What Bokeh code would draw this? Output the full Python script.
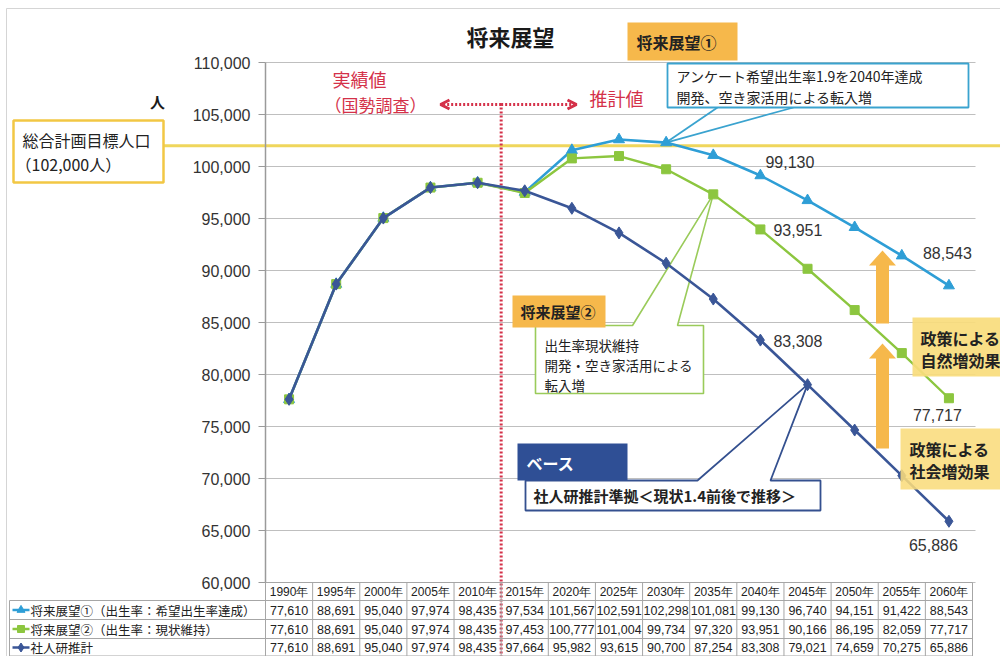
from bokeh.plotting import figure
from bokeh.models import (Range1d, BoxAnnotation, Label, Arrow, OpenHead, FixedTicker,
                          NumeralTickFormatter)
from bokeh.embed import file_html
from bokeh.resources import INLINE
from bokeh.core.properties import value

# ---------------- data ----------------
years = ["1990年", "1995年", "2000年", "2005年", "2010年", "2015年", "2020年", "2025年",
         "2030年", "2035年", "2040年", "2045年", "2050年", "2055年", "2060年"]
vision1 = [77610, 88691, 95040, 97974, 98435, 97534, 101567, 102591, 102298, 101081,
           99130, 96740, 94151, 91422, 88543]
vision2 = [77610, 88691, 95040, 97974, 98435, 97453, 100777, 101004, 99734, 97320,
           93951, 90166, 86195, 82059, 77717]
base_proj = [77610, 88691, 95040, 97974, 98435, 97664, 95982, 93615, 90700, 87254,
             83308, 79021, 74659, 70275, 65886]
series_labels = ["将来展望①（出生率：希望出生率達成）", "将来展望②（出生率：現状維持）", "社人研推計"]
target_population = 102000
y_ticks = [60000, 65000, 70000, 75000, 80000, 85000, 90000, 95000, 100000, 105000, 110000]

# ---------------- style / layout ----------------
C1 = "#2E9ED6"
C2 = "#8CC63F"
C3 = "#3A5697"
RED = "#D43149"
ORANGE = "#F6B84B"
YELLOW_LINE = "#EFD65C"
GRID = "#BFBFBF"
TLINE = "#A6A6A6"
JP = "Noto Sans CJK JP"
NUM = "Liberation Sans"

W, H = 1000, 656
PLOT_L, PLOT_T, PLOT_B = 265, 62, 582   # px of the value area
n = len(years)
UNIT = 707 / n                   # px per category
Y0, Y1 = y_ticks[0], y_ticks[-1]
PXY = (Y1 - Y0) / (PLOT_B - PLOT_T)   # data per px


def X(px):
    return (px - PLOT_L) / UNIT - 0.5


def Y(py):
    return Y1 - (py - PLOT_T) * PXY


def DY(h):
    return h * PXY


xs = list(range(n))
split_x = years.index("2015年") - 0.5

p = figure(width=W, height=H, x_range=Range1d(X(0), X(W)), y_range=Range1d(Y(H), Y(0)),
           x_axis_location=None, output_backend="svg", toolbar_location=None, min_border=0)
p.outline_line_color = None
p.grid.visible = False
p.yaxis.fixed_location = -0.5
p.yaxis.bounds = (Y0, Y1)
p.yaxis.ticker = FixedTicker(ticks=y_ticks)
p.yaxis.formatter = NumeralTickFormatter(format="0,0")
p.yaxis.major_label_text_font_size = "16px"
p.yaxis.major_label_text_font = NUM
p.yaxis.major_label_text_color = "#333333"
p.yaxis.axis_line_color = "#9A9A9A"
p.yaxis.axis_line_width = 1.5
p.yaxis.major_tick_line_color = "#9A9A9A"
p.yaxis.major_tick_out = 7
p.yaxis.major_tick_in = 0
p.yaxis.minor_tick_line_color = None
p.yaxis.major_label_standoff = 8

# faint outer frame of the figure
p.add_layout(BoxAnnotation(left=X(6), right=X(1010), top=Y(8), bottom=Y(700), fill_alpha=0,
                           line_color="#D5D5D5", line_alpha=1, line_width=1, level="underlay"))

# horizontal gridlines at the tick values
p.segment(x0=[-0.5] * len(y_ticks), y0=y_ticks, x1=[X(975)] * len(y_ticks), y1=y_ticks,
          line_color=GRID, line_width=1)


def label(x, y, text, size, color="#222222", font=JP, align="left", baseline="middle",
          style="normal", **kw):
    p.add_layout(Label(x=x, y=y, text=text, text_font_size=f"{size}px", text_color=color,
                       text_font=font, text_align=align, text_baseline=baseline,
                       text_font_style=style, **kw))


def box(left, right, top, bottom, fill, line=None, lw=1.5, falpha=1.0, level="annotation"):
    p.add_layout(BoxAnnotation(left=left, right=right, top=top, bottom=bottom,
                               fill_color=fill, fill_alpha=falpha,
                               line_color=line if line else fill,
                               line_alpha=1.0 if line else 0.0, line_width=lw, level=level))


# target population line (102,000)
p.segment(x0=[X(162)], y0=[target_population], x1=[X(1003)], y1=[target_population],
          line_color=YELLOW_LINE, line_width=3)

# red dotted separator between census and projection (through the table)
p.segment(x0=[split_x], y0=[Y(103)], x1=[split_x], y1=[Y(H)], line_color=RED,
          line_width=3, line_dash="2 2")

# ---- callout 1 tails
i2030 = years.index("2030年")
p.segment(x0=[X(717), X(793)], y0=[Y(107), Y(107)], x1=[i2030, i2030],
          y1=[vision1[i2030], vision1[i2030]], line_color="#3AA3CF", line_width=1.8)

# ---- callout 2 speech bubble
i2035 = years.index("2035年")
p.patch([X(535), X(632), i2035, X(677), X(703), X(703), X(535)],
        [Y(325), Y(325), vision2[i2035], Y(325), Y(325), Y(393), Y(393)],
        fill_color="white", line_color="#9ACB5A", line_width=1.6)

# ---- callout 3 speech bubble
i2045 = years.index("2045年")
p.patch([X(525), X(697), i2045, X(770), X(820), X(820), X(525)],
        [Y(480), Y(480), base_proj[i2045], Y(480), Y(480), Y(510), Y(510)],
        fill_color="white", line_color="#34508F", line_width=1.8)

# ---- orange up arrows
for tip, bottom in [(250, 323), (343, 448)]:
    cx = 882
    p.patch([X(cx - 6.5), X(cx - 6.5), X(cx - 13.5), X(cx), X(cx + 13.5), X(cx + 6.5), X(cx + 6.5)],
            [Y(bottom), Y(tip + 15), Y(tip + 15), Y(tip), Y(tip + 15), Y(tip + 15), Y(bottom)],
            fill_color=ORANGE, line_color=None)

# ---- series
p.line(xs, vision1, line_color=C1, line_width=2.6)
p.scatter(xs, vision1, marker="triangle", size=11, fill_color=C1, line_color=C1)
p.line(xs, vision2, line_color=C2, line_width=2.4)
p.scatter(xs, vision2, marker="square", size=9, fill_color=C2, line_color=C2)
p.line(xs, base_proj, line_color=C3, line_width=2.6)
p.scatter(xs, base_proj, marker="diamond", size=12, fill_color=C3, line_color=C3)

# ---- data labels
i2040 = years.index("2040年")
i2060 = years.index("2060年")
for series, idx, dxp, dyp in [(vision1, i2040, 5, 14), (vision2, i2040, 13, -1), (base_proj, i2040, 13, -1),
                              (vision1, i2060, -26, 33), (vision2, i2060, -36, -17),
                              (base_proj, i2060, -40, -24)]:
    label(idx, series[idx], f"{series[idx]:,}", 16, color="#333333", font=NUM,
          x_offset=dxp, y_offset=dyp)

# ---- title & texts
label(X(510), Y(35), "将来展望", 22, color="#1A1A1A", align="center", style="bold")
label(X(157), Y(101), "人", 15, color="#1A1A1A", align="center", style="bold")

# target box (left)
box(X(13), X(163), Y(120), Y(182), "white", line="#F2C744", lw=2.5)
label(X(22), Y(139), "総合計画目標人口", 16)
label(X(15), Y(163), f"（{target_population:,}人）", 16)

# census / projection texts
label(X(359), Y(78), "実績値", 18, color=RED, align="center")
label(X(324), Y(104), "（国勢調査）", 17, color=RED)
label(X(616), Y(97), "推計値", 18, color=RED, align="center")
p.add_layout(Arrow(x_start=split_x, y_start=Y(104), x_end=X(440), y_end=Y(104),
                   line_color=RED, line_width=3, line_dash="2 2",
                   end=OpenHead(size=9, line_color=RED, line_width=3)))
p.add_layout(Arrow(x_start=split_x, y_start=Y(104), x_end=X(576), y_end=Y(104),
                   line_color=RED, line_width=3, line_dash="2 2",
                   end=OpenHead(size=9, line_color=RED, line_width=3)))

# 将来展望① boxes
box(X(627), X(737), Y(22), Y(60), ORANGE)
label(X(636), Y(41), "将来展望①", 16, style="bold")
box(X(667), X(968), Y(63), Y(107), "white", line="#3AA3CF", lw=1.8)
label(X(676), Y(75), "アンケート希望出生率1.9を2040年達成", 14)
label(X(676), Y(96), "開発、空き家活用による転入増", 14)

# 将来展望② boxes
box(X(512), X(605), Y(295), Y(327), ORANGE)
label(X(520), Y(311), "将来展望②", 15, style="bold")
label(X(544), Y(344), "出生率現状維持", 13.5)
label(X(544), Y(364), "開発・空き家活用による", 13.5)
label(X(544), Y(384), "転入増", 13.5)

# ベース boxes
box(X(517), X(627), Y(443), Y(480), "#2F4F95")
label(X(526), Y(462), "ベース", 16, color="white", style="bold")
label(X(533), Y(495), "社人研推計準拠＜現状1.4前後で推移＞", 15, style="bold")

# policy effect boxes (right)
box(X(912), X(1010), Y(317), Y(376), "#F9DC7C", falpha=0.92)
label(X(920), Y(337), "政策による", 16, style="bold")
label(X(920), Y(359), "自然増効果", 16, style="bold")
box(X(900), X(1010), Y(428), Y(489), "#F9DC7C", falpha=0.88)
label(X(909), Y(448), "政策による", 16, style="bold")
label(X(909), Y(470), "社会増効果", 16, style="bold")

# ---------------- data table below the value area ----------------
row_edges = [582, 600, 619, 638, 655.5]
row_centers = [591, 609.5, 628.5, 647]
p.segment(x0=[-0.5] + [X(9)] * 4, y0=[Y(r) for r in row_edges], x1=[n - 0.5] * 5,
          y1=[Y(r) for r in row_edges], line_color=TLINE, line_width=1)
p.segment(x0=[k - 0.5 for k in range(n + 1)], y0=[Y0] * (n + 1),
          x1=[k - 0.5 for k in range(n + 1)], y1=[Y(H)] * (n + 1), line_color=TLINE, line_width=1)
p.segment(x0=[X(9)], y0=[Y(600)], x1=[X(9)], y1=[Y(H)], line_color=TLINE, line_width=1)

p.text(x=xs, y=[Y(row_centers[0])] * n, text=years, text_font=value(NUM), text_font_size="12px",
       text_align="center", text_baseline="middle", text_color="#222222")
for r, (series, col, mk, sz) in enumerate([(vision1, C1, "triangle", 8), (vision2, C2, "square", 7),
                                           (base_proj, C3, "diamond", 9)]):
    yc = Y(row_centers[r + 1])
    p.text(x=xs, y=[yc] * n, text=[f"{v:,}" for v in series], text_font=value(NUM),
           text_font_size="12.5px", text_align="center", text_baseline="middle", text_color="#222222")
    p.line([X(12), X(29)], [yc, yc], line_color=col, line_width=2.4)
    p.scatter([X(20.5)], [yc], marker=mk, size=sz, fill_color=col, line_color=col)
    p.text(x=[X(30)], y=[yc], text=[series_labels[r]], text_font=value(JP), text_font_size="12.5px",
           text_align="left", text_baseline="middle", text_color="#222222")

open("out.html", "w").write(file_html(p, INLINE))
